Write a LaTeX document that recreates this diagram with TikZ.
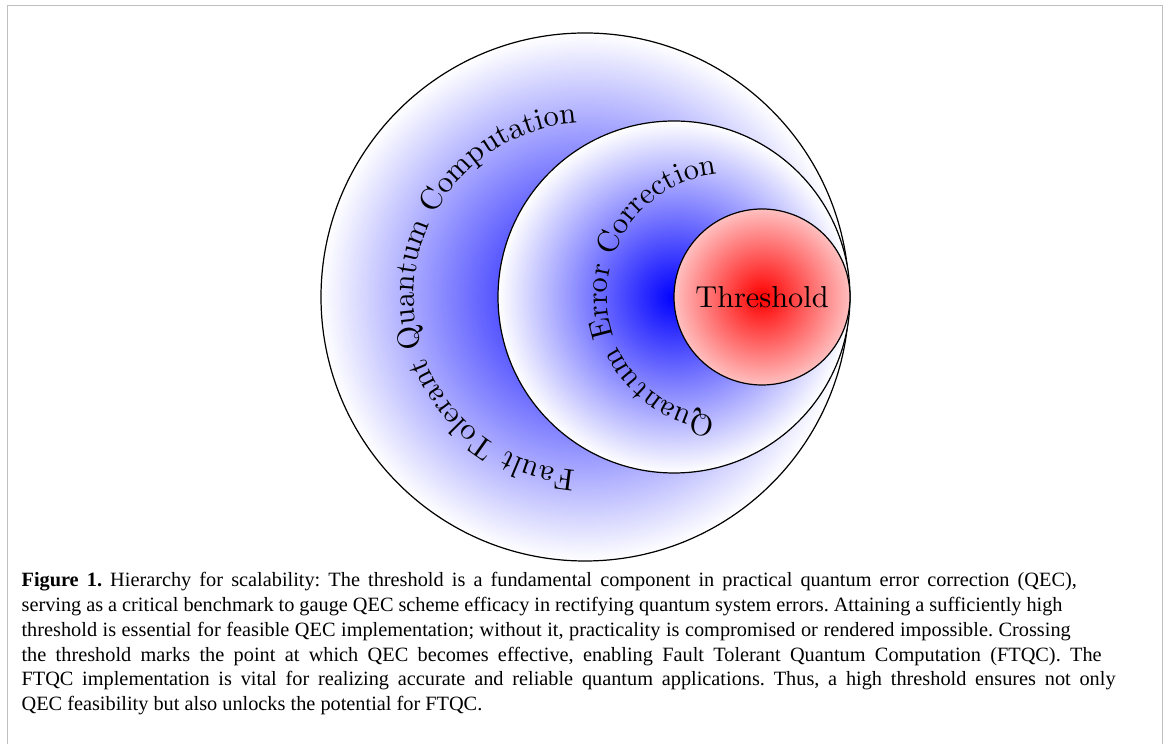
\documentclass[tikz,border=0pt]{standalone}
\usepackage{fontspec}
\newfontfamily\capfont{Liberation Serif}
\usetikzlibrary{decorations.text}
\begin{document}
\frenchspacing
\begin{tikzpicture}[x=0.33pt, y=0.33pt,
  ring/.style={circle, draw=black, line width=0.4pt, inner sep=0pt},
  captext/.style={anchor=base west, inner sep=0pt, font=\capfont\fontsize{6.7}{8}\selectfont\frenchspacing},
  arctext/.style={decorate, decoration={text along path, text align=center, text={#1}}},
  frameline/.style={draw=black!25, line width=0.5pt}
]
\useasboundingbox (0,0) rectangle (1170,-744);
\draw[frameline] (7.5,-744) -- (7.5,-5.5) -- (1162.5,-5.5) -- (1162.5,-744);

\node[ring, minimum size=174.24pt, inner color=blue, outer color=white] (outer) at (585,-297) {};
\node[ring, minimum size=116.16pt, inner color=blue, outer color=white] (middle) at (674,-297) {};
\node[ring, minimum size=58.08pt, inner color=red, outer color=red!25] (thr) at (762,-297) {Threshold};

\coordinate (oc) at (588,-297);
\path[arctext={|\fontsize{10.1}{12}\selectfont|Fault Tolerant Quantum Computation}] (oc) ++(359.2:174) arc[start angle=359.2, end angle=0, radius=174];
\coordinate (mc) at (729,-296);
\path[arctext={Quantum Error Correction}] (mc) ++(359:122) arc[start angle=359, end angle=0, radius=122];

\node[captext] (cap1) at (21,-587) {\makebox[348.2pt][s]{\textbf{Figure 1.} Hierarchy for scalability: The threshold is a fundamental component in practical quantum error correction (QEC),}};
\node[captext] (cap2) at (21,-611.7) {\makebox[343.5pt][s]{serving as a critical benchmark to gauge QEC scheme efficacy in rectifying quantum system errors. Attaining a sufficiently high}};
\node[captext] (cap3) at (21,-636.4) {\makebox[346.2pt][s]{threshold is essential for feasible QEC implementation; without it, practicality is compromised or rendered impossible. Crossing}};
\node[captext] (cap4) at (21,-661.1) {\makebox[356.4pt][s]{the threshold marks the point at which QEC becomes effective, enabling Fault Tolerant Quantum Computation (FTQC). The}};
\node[captext] (cap5) at (21,-685.8) {\makebox[361.0pt][s]{FTQC implementation is vital for realizing accurate and reliable quantum applications. Thus, a high threshold ensures not only}};
\node[captext] (cap6) at (21,-710.5) {QEC feasibility but also unlocks the potential for FTQC.};
\end{tikzpicture}
\end{document}
